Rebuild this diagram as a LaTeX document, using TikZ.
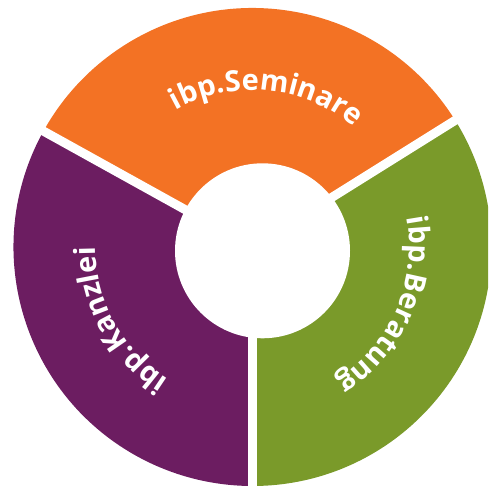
\documentclass[tikz,border=0pt]{standalone}
\usepackage{fontspec}
\usepackage{xcolor}
\usetikzlibrary{decorations.text}
\newfontfamily\ibpfont{Open Sans}
\definecolor{ibporange}{RGB}{243,114,36}
\definecolor{ibpgreen}{RGB}{122,154,42}
\definecolor{ibppurple}{RGB}{108,29,97}
\tikzset{
  gap/.style={white,line width=9pt},
  ringlabel/.style={decorate,decoration={text along path,text align=center,
    text={|\ibpfont\bfseries\fontsize{29}{29}\selectfont\color{white}|#1}}}
}

\begin{document}
\begin{tikzpicture}[x=1pt,y=1pt]
    \clip (0,0) rectangle (488,490);
    \coordinate (c) at (252.5,243);
    % the three sectors
    \fill[ibporange] (c) -- ([shift={(32:239)}]c) arc[start angle=32,end angle=151,radius=239] -- cycle;
    \fill[ibppurple] (c) -- ([shift={(151:239)}]c) arc[start angle=151,end angle=270,radius=239] -- cycle;
    \fill[ibpgreen] (c) -- ([shift={(270:239)}]c) arc[start angle=270,end angle=392,radius=239] -- cycle;
    \draw[gap] (c) -- ([shift={(32:260)}]c);
    \draw[gap] (c) -- ([shift={(151:260)}]c);
    \draw[gap] (c) -- ([shift={(270:260)}]c);
    \fill[white] (262.5,239.2) circle[radius=87.5];
    % labels
    \path[ringlabel=ibp.Seminare] ([shift={(134.5:157)}]c) arc[start angle=134.5,end angle=34.5,radius=157];
    \path[ringlabel=ibp.Beratung] ([shift={(26.5:157)}]c) arc[start angle=26.5,end angle=-73.5,radius=157];
    \path[ringlabel=ibp.Kanzlei] ([shift={(258.75:157)}]c) arc[start angle=258.75,end angle=158.75,radius=157];
\end{tikzpicture}
\end{document}
